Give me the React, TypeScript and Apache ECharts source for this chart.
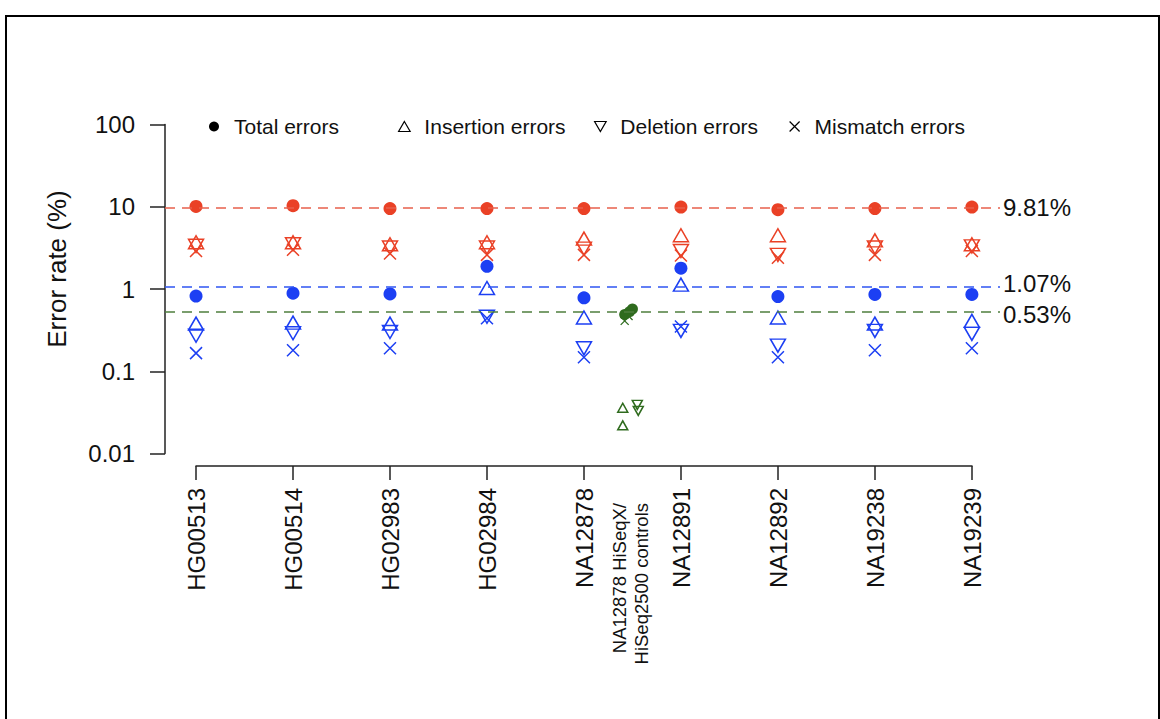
import React, { useEffect, useRef } from "react";
import * as echarts from "echarts";

const FONT = "'Liberation Sans', Arial, Helvetica, sans-serif";

const samples = ["HG00513", "HG00514", "HG02983", "HG02984", "NA12878", "NA12891", "NA12892", "NA19238", "NA19239"];
const yTicks = [0.01, 0.1, 1, 10, 100];

// Per-sample error rates (%), red = first group, blue = second group
const redTotal = [10.1, 10.3, 9.5, 9.5, 9.5, 9.9, 9.2, 9.5, 9.9];
const redIns = [3.7, 3.7, 3.5, 3.7, 4.1, 4.5, 4.5, 3.9, 3.5];
const redDel = [3.35, 3.5, 3.2, 3.2, 3.1, 2.9, 2.6, 3.2, 3.3];
const redMis = [2.9, 3.0, 2.7, 2.6, 2.6, 2.55, 2.4, 2.6, 2.9];

const blueTotal = [0.82, 0.89, 0.87, 1.89, 0.78, 1.79, 0.81, 0.86, 0.86];
const blueIns = [0.38, 0.39, 0.38, 1.03, 0.45, 1.13, 0.45, 0.38, 0.41];
const blueDel = [0.27, 0.29, 0.3, 0.46, 0.19, 0.31, 0.205, 0.31, 0.285];
const blueMis = [0.166, 0.18, 0.19, 0.44, 0.148, 0.35, 0.148, 0.18, 0.19];

// NA12878 HiSeqX / HiSeq2500 controls: [x position in sample index units, value]
const ctrlTotal = [[4.42, 0.49], [4.47, 0.53], [4.5, 0.57]];
const ctrlIns = [[4.4, 0.036], [4.4, 0.022]];
const ctrlDel = [[4.55, 0.039], [4.56, 0.033]];
const ctrlMis = [[4.42, 0.41], [4.46, 0.47]];

const refLines = [
  { value: 9.81, label: "9.81%", color: "#E8604C", nudge: 0 },
  { value: 1.07, label: "1.07%", color: "#2F55F2", nudge: -3 },
  { value: 0.53, label: "0.53%", color: "#4F7F3E", nudge: 3 },
];

const RED = "#EA4126";
const BLUE = "#1C3FF3";
const GREEN = "#2F6B1E";

const UP_TRI = "path://M5,0L10,8.66L0,8.66Z";
const DOWN_TRI = "path://M0,0L10,0L5,8.66Z";
const CROSS = "path://M0,0L10,10M10,0L0,10";

function hollow(color: string, w = 1.5) {
  return { color: "rgba(0,0,0,0)", borderColor: color, borderWidth: w, opacity: 1 };
}

function toPairs(vals: number[]) {
  return vals.map((v, i) => [i, v]);
}

export default function App() {
  const ref = useRef<HTMLDivElement>(null);

  useEffect(() => {
    if (!ref.current) return;
    const chart = echarts.init(ref.current, null, { renderer: "svg" });

    const mkSeries = (
      name: string,
      data: number[][],
      symbol: string,
      size: number | number[],
      itemStyle: any,
      z: number,
      markLine?: any
    ) => ({
      type: "scatter",
      name,
      xAxisIndex: 0,
      yAxisIndex: 0,
      data,
      symbol,
      symbolSize: size,
      symbolKeepAspect: false,
      itemStyle,
      z,
      emphasis: { disabled: true },
      ...(markLine ? { markLine } : {}),
    });

    const mkLine = (r: { value: number; label: string; color: string; nudge: number }) => ({
      silent: true,
      symbol: "none",
      data: [{ yAxis: r.value }],
      lineStyle: { color: r.color, type: [10, 7], width: 1.5, opacity: 1 },
      label: {
        show: true,
        position: "end",
        formatter: r.label,
        color: "#111",
        fontSize: 24,
        fontFamily: FONT,
        distance: 3,
        offset: [0, r.nudge],
      },
    });

    const legendBase = {
      top: 111,
      itemWidth: 30,
      itemHeight: 10,
      selectedMode: false,
      textStyle: { fontSize: 21, color: "#111", fontFamily: FONT },
    };

    const option: any = {
      animation: false,
      backgroundColor: "transparent",
      legend: [
        { ...legendBase, left: 204, data: [{ name: "Total errors", icon: "circle", itemStyle: { color: "#000" } }] },
        { ...legendBase, left: 393, data: [{ name: "Insertion errors", icon: UP_TRI, itemStyle: hollow("#000", 1.2) }] },
        { ...legendBase, left: 589, data: [{ name: "Deletion errors", icon: DOWN_TRI, itemStyle: hollow("#000", 1.2) }] },
        { ...legendBase, left: 784, data: [{ name: "Mismatch errors", icon: CROSS, itemStyle: hollow("#000", 1.2) }] },
      ],
      grid: [
        { left: 165, width: 835, top: 124.5, height: 329 },
        { left: 196, width: 776, top: 465, height: 1 },
      ],
      xAxis: [
        {
          type: "value",
          gridIndex: 0,
          min: -0.32,
          max: 8.29,
          show: false,
        },
        {
          type: "value",
          gridIndex: 1,
          min: 0,
          max: 8,
          interval: 1,
          position: "bottom",
          axisLine: { show: true, onZero: false, lineStyle: { color: "#222", width: 1.5 } },
          axisTick: { show: true, length: 14, lineStyle: { color: "#222", width: 1.5 } },
          splitLine: { show: false },
          axisLabel: {
            rotate: 90,
            margin: 22,
            fontSize: 24,
            color: "#111",
            fontFamily: FONT,
            formatter: (v: number) => samples[Math.round(v)] ?? "",
          },
        },
      ],
      yAxis: [
        {
          type: "log",
          logBase: 10,
          gridIndex: 0,
          min: yTicks[0],
          max: yTicks[yTicks.length - 1],
          axisLine: { show: true, onZero: false, lineStyle: { color: "#222", width: 1.5 } },
          axisTick: { show: true, length: 15, lineStyle: { color: "#222", width: 1.5 } },
          splitLine: { show: false },
          axisLabel: {
            margin: 30,
            fontSize: 24,
            color: "#111",
            fontFamily: FONT,
            formatter: (v: number) => String(+v.toPrecision(3)),
          },
        },
        {
          type: "value",
          gridIndex: 1,
          show: false,
        },
      ],
      graphic: [
        {
          type: "text",
          x: 57,
          y: 269,
          rotation: Math.PI / 2,
          style: {
            text: "Error rate (%)",
            fontSize: 26,
            fill: "#111",
            fontFamily: FONT,
            align: "center",
            verticalAlign: "middle",
          },
        },
        {
          type: "text",
          x: 630,
          y: 503,
          rotation: Math.PI / 2,
          style: {
            text: "NA12878 HiSeqX/\nHiSeq2500 controls",
            fontSize: 18.5,
            lineHeight: 22,
            fill: "#111",
            fontFamily: FONT,
            align: "right",
            verticalAlign: "middle",
          },
        },
      ],
      series: [
        mkSeries("Insertion errors", toPairs(redIns), UP_TRI, [15, 13], hollow(RED), 3),
        mkSeries("Deletion errors", toPairs(redDel), DOWN_TRI, [15, 13], hollow(RED), 3),
        mkSeries("Mismatch errors", toPairs(redMis), CROSS, [12, 12], hollow(RED), 3),
        mkSeries("Total errors", toPairs(redTotal), "circle", 13, { color: RED, opacity: 1 }, 4, mkLine(refLines[0])),
        mkSeries("Insertion errors", toPairs(blueIns), UP_TRI, [15, 13], hollow(BLUE), 3),
        mkSeries("Deletion errors", toPairs(blueDel), DOWN_TRI, [15, 13], hollow(BLUE), 3),
        mkSeries("Mismatch errors", toPairs(blueMis), CROSS, [12, 12], hollow(BLUE), 3),
        mkSeries("Total errors", toPairs(blueTotal), "circle", 13, { color: BLUE, opacity: 1 }, 4, mkLine(refLines[1])),
        mkSeries("Insertion errors", ctrlIns, UP_TRI, [10, 9], hollow(GREEN, 1.5), 3),
        mkSeries("Deletion errors", ctrlDel, DOWN_TRI, [10, 9], hollow(GREEN, 1.5), 3),
        mkSeries("Mismatch errors", ctrlMis, CROSS, [8, 8], hollow(GREEN, 1.3), 3),
        mkSeries("Total errors", ctrlTotal, "circle", 11, { color: GREEN, opacity: 1 }, 4, mkLine(refLines[2])),
      ],
    };

    chart.setOption(option);
    return () => chart.dispose();
  }, []);

  return (
    <div style={{ position: "fixed", left: 0, top: 0, width: 1160, height: 719, background: "#fff", overflow: "hidden" }}>
      <div ref={ref} style={{ position: "absolute", left: 0, top: 0, width: 1160, height: 719 }} />
      <div
        style={{
          position: "absolute",
          left: 5,
          top: 15,
          width: 1155,
          height: 720,
          border: "2px solid #000",
          boxSizing: "border-box",
          pointerEvents: "none",
        }}
      />
    </div>
  );
}
